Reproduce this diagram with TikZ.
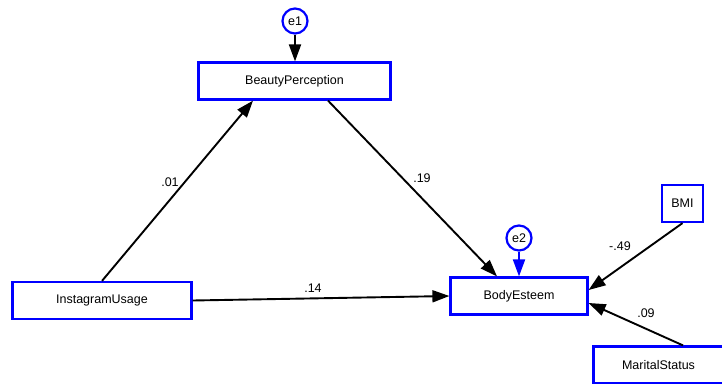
\documentclass[tikz,border=0pt]{standalone}
\usepackage{fontspec}
\setmainfont{Liberation Sans}
\usetikzlibrary{arrows.meta}

\begin{document}
\begin{tikzpicture}[x=1pt,y=-1pt,
  var/.style={draw=blue,line width=2.2pt,minimum height=37pt,inner sep=0pt,font=\fontsize{12.5}{14}\selectfont},
  err/.style={circle,draw=blue,line width=2.2pt,minimum size=25pt,inner sep=0pt,font=\fontsize{12.5}{14}\selectfont},
  regr/.style={line width=1.9pt,-{Triangle[length=17pt,width=12pt]}},
  coef/.style={font=\fontsize{12.5}{14}\selectfont}]
\newcommand{\arrw}{Triangle[length=17pt,width=12pt]}
\useasboundingbox (0,0) rectangle (722,383);

% variables
\node[var,minimum width=192pt] (beauty) at (294.5,81) {BeautyPerception};
\node[var,minimum width=179pt] (insta) at (102,300.5) {InstagramUsage};
\node[var,minimum width=137pt] (body) at (519,296) {BodyEsteem};
\node[var,minimum width=41pt] (bmi) at (682.5,203.5) {BMI};
\node[var,minimum width=130pt] (marital) at (658.5,365) {MaritalStatus};

% errors
\node[err] (e1) at (295,21) {e1};
\node[err] (e2) at (519,238) {e2};

% paths
\draw[regr] (e1) -- (beauty.north -| e1);
\draw[regr,draw=blue,-{\arrw[fill=blue]}] (e2) -- (body.north -| e2);
\draw[regr] (insta.north) -- ([xshift=-41.5pt]beauty.south);
\draw[regr] ([xshift=33.5pt]beauty.south) -- ([xshift=-22pt]body.north);
\draw[regr] (insta.east) -- (body.west);
\draw[regr] (bmi.south) -- ([yshift=6pt]body.east);
\draw[regr] ([xshift=24.5pt]marital.north) -- ([yshift=-7pt]body.east);

% coefficients
\node[coef] (c1) at (170,182) {.01};
\node[coef] (c2) at (422,178) {.19};
\node[coef] (c3) at (313,288) {.14};
\node[coef] (c4) at (620,246) {-.49};
\node[coef] (c5) at (646,313) {.09};
\end{tikzpicture}
\end{document}
